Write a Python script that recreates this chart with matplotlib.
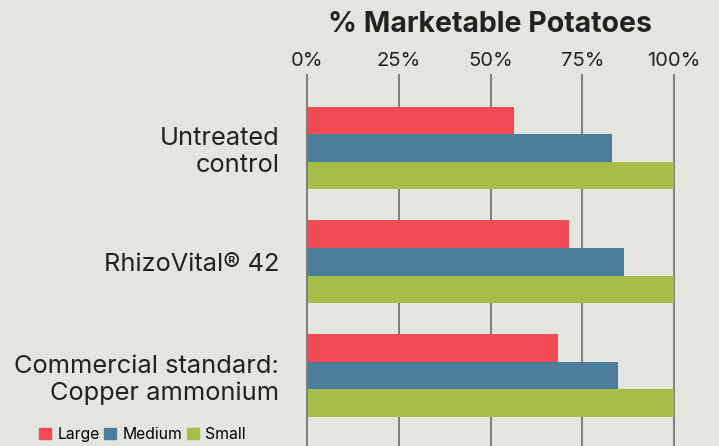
import matplotlib.pyplot as plt
from matplotlib.patches import Patch
import numpy as np

plt.rcParams['font.family'] = ['Inter', 'DejaVu Sans']

# Data
treatments = ['Untreated\ncontrol', 'RhizoVital® 42', 'Commercial standard:\nCopper ammonium']
sizes = ['Large', 'Medium', 'Small']
large = [56.4, 71.4, 68.4]
medium = [83.1, 86.4, 84.7]
small = [100, 100, 100]

colors = ['#f24b55', '#4a7c9b', '#a6bd4a']
bg = '#e3e5df'

W, H = 719, 446
fig = plt.figure(figsize=(W / 100, H / 100), dpi=100, facecolor=bg)

# axes placed in pixel terms: 0% at x=307, 100% at x=674
px_per = (674 - 307) / 100
x0, x1 = -1.5, 101.5
left = 307 + x0 * px_per
right = 307 + x1 * px_per
top_px, bot_px = 74, 446
ax = fig.add_axes([left / W, 1 - bot_px / H, (right - left) / W, (bot_px - top_px) / H])
ax.set_facecolor(bg)

y = np.arange(len(treatments))
h = 0.242
for i, (vals, c) in enumerate(zip([large, medium, small], colors)):
    ax.barh(y + (i - 1) * h, vals, height=h, color=c, zorder=2)

ax.set_xlim(x0, x1)
ax.set_ylim(2.62, -(148 - top_px) / 113.75)

ticks = [0, 25, 50, 75, 100]
for t in ticks:
    ax.axvline(t, color='#7d7d7d', lw=1.4, zorder=1 if t else 3)

ax.xaxis.tick_top()
ax.set_xticks(ticks)
ax.set_xticklabels([f'{t}%' for t in ticks], fontsize=14.5, color='#222222')
ax.tick_params(axis='x', length=0, pad=3)
ax.set_yticks(y)
ax.set_yticklabels(treatments, fontsize=18.3, color='#222222', linespacing=1.2)
ax.tick_params(axis='y', length=0, pad=16)
for s in ax.spines.values():
    s.set_visible(False)

fig.text(490 / W, 1 - 24 / H, '% Marketable Potatoes', ha='center', va='center',
         fontsize=20.5, fontweight='bold', color='#222222')

handles = [Patch(color=c, label=s) for c, s in zip(colors, sizes)]
fig.legend(handles=handles, loc='lower left', bbox_to_anchor=(33 / W, -2 / H), ncol=3,
           frameon=False, fontsize=11.3, handlelength=0.75, handleheight=0.75,
           handletextpad=0.4, columnspacing=0.3, borderaxespad=0)

fig.savefig('out.png', dpi=100, facecolor=bg)
